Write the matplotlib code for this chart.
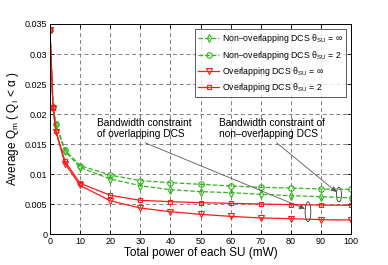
import matplotlib
matplotlib.use("Agg")
import matplotlib.pyplot as plt
from matplotlib.patches import Ellipse

x = [0, 1, 2, 5, 10, 20, 30, 40, 50, 60, 70, 80, 90, 100]
nonov_inf = [0.034, 0.0212, 0.0182, 0.0138, 0.0111, 0.00917, 0.00806, 0.00739, 0.00706, 0.00689, 0.00661, 0.00639, 0.00622, 0.0060]
nonov_2 = [0.034, 0.0212, 0.0183, 0.0140, 0.0114, 0.00983, 0.00889, 0.00856, 0.00828, 0.0080, 0.00778, 0.00767, 0.0075, 0.00744]
ov_inf = [0.034, 0.0210, 0.0170, 0.0117, 0.0081, 0.00555, 0.00433, 0.00372, 0.00328, 0.00294, 0.00267, 0.00256, 0.00239, 0.00233]
ov_2 = [0.034, 0.0210, 0.0171, 0.0121, 0.00845, 0.00645, 0.00561, 0.00539, 0.00522, 0.00511, 0.0050, 0.00489, 0.00483, 0.00478]

labels = ["Non\u2013overlapping DCS \u03b8$_{\\mathrm{SU}}$ = \u221e",
          "Non\u2013overlapping DCS \u03b8$_{\\mathrm{SU}}$ = 2",
          "Overlapping DCS \u03b8$_{\\mathrm{SU}}$ = \u221e",
          "Overlapping DCS \u03b8$_{\\mathrm{SU}}$ = 2"]
xticks = list(range(0, 101, 10))
yticks = [0, 0.005, 0.01, 0.015, 0.02, 0.025, 0.03, 0.035]
yticklabels = ["0", "0.005", "0.01", "0.015", "0.02", "0.025", "0.03", "0.035"]

plt.rcParams['font.family'] = ['Liberation Sans', 'DejaVu Sans']
plt.rcParams['mathtext.fontset'] = 'custom'
plt.rcParams['mathtext.rm'] = 'Liberation Sans'
plt.rcParams['mathtext.it'] = 'Liberation Sans:italic'

fig = plt.figure(figsize=(3.88, 2.65), dpi=100)
ax = fig.add_axes([50/388, 1-234/265, 301/388, 210/265])

green = '#33b51f'
red = '#ff1a1a'
ms = 4
ax.plot(x, nonov_inf, '--', color=green, marker='d', mfc='none', ms=ms, lw=0.9, mew=0.8, label=labels[0])
ax.plot(x, nonov_2, '--', color=green, marker='o', mfc='none', ms=ms, lw=0.9, mew=0.8, label=labels[1])
ax.plot(x, ov_inf, '-', color=red, marker='v', mfc='none', ms=ms, lw=0.9, mew=0.8, label=labels[2])
ax.plot(x, ov_2, '-', color=red, marker='s', mfc='none', ms=ms-0.5, lw=0.9, mew=0.8, label=labels[3])

ax.set_xlim(0, 100)
ax.set_ylim(0, 0.035)
ax.set_xticks(xticks)
ax.set_yticks(yticks)
ax.set_yticklabels(yticklabels)
ax.tick_params(direction='in', top=True, right=True, labelsize=6.5, length=3, width=0.6, pad=2)
ax.grid(True, linestyle=(0, (4, 3)), color='0.5', lw=0.7)
for s in ax.spines.values():
    s.set_linewidth(0.7)

ax.set_xlabel("Total power of each SU (mW)", fontsize=8.5, labelpad=1)
ax.set_ylabel("Average Q$_{\\mathrm{m}}$ ( Q$_{\\mathrm{I}}$ < \u03b1 )", fontsize=8.5, labelpad=3)

leg = ax.legend(loc='upper right', fontsize=6.3, frameon=True, fancybox=False,
                edgecolor='0.2', borderpad=0.35, labelspacing=0.38, handlelength=2.4,
                handletextpad=0.3, borderaxespad=0.6)
leg.get_frame().set_linewidth(0.7)

ax.text(15.6, 0.0193, "Bandwidth constraint\nof overlapping DCS", fontsize=7.3, va='top', ha='left', linespacing=1.1)
ax.text(56.1, 0.0193, "Bandwidth constraint of\nnon\u2013overlapping DCS", fontsize=7.3, va='top', ha='left', linespacing=1.1)

ax.annotate("", xy=(84.7, 0.0042), xytext=(31.6, 0.0152),
            arrowprops=dict(arrowstyle='-|>', color='0.35', lw=0.6, mutation_scale=8, shrinkA=0, shrinkB=0))
ax.annotate("", xy=(95.2, 0.0070), xytext=(75.3, 0.0152),
            arrowprops=dict(arrowstyle='-|>', color='0.35', lw=0.6, mutation_scale=8, shrinkA=0, shrinkB=0))
ax.add_patch(Ellipse((85.7, 0.00372), 1.9, 0.0033, fill=False, ec='0.2', lw=0.6))
ax.add_patch(Ellipse((96.0, 0.00658), 1.7, 0.0024, fill=False, ec='0.2', lw=0.6))

fig.savefig("out.png", dpi=100)
